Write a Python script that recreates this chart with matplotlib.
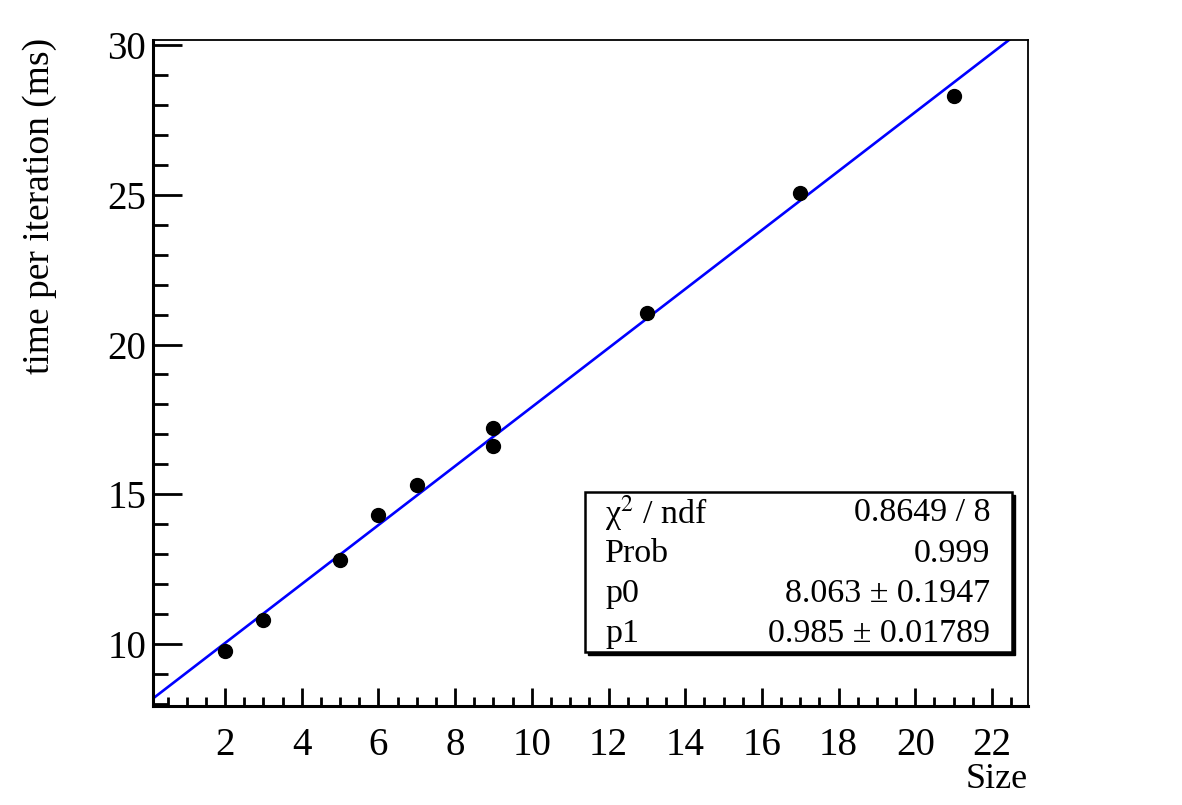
import numpy as np
import matplotlib
matplotlib.use("Agg")
import matplotlib.pyplot as plt
from matplotlib.ticker import MultipleLocator
from matplotlib.patches import Rectangle

plt.rcParams['font.family'] = ['Liberation Serif', 'DejaVu Serif']
plt.rcParams['mathtext.fontset'] = 'stix'

# measured points
size = [2, 3, 5, 6, 7, 9, 9, 13, 17, 21]
time_ms = [9.75, 10.8, 12.8, 14.3, 15.3, 17.2, 16.6, 21.05, 25.05, 28.3]

# fit result (pol1)
p0 = 8.063
p1 = 0.985
stat_labels = ['χ$^{2}$ / ndf', 'Prob', 'p0', 'p1']
stat_values = ['0.8649 / 8', '0.999', '8.063 ± 0.1947', '0.985 ± 0.01789']

xlim = (0.12, 22.94)
ylim = (7.93, 30.17)

fig = plt.figure(figsize=(11.82, 8.05), dpi=100)
ax = fig.add_axes([153/1182, 1-706/805, (1028-153)/1182, (706-40)/805])

# fit line over the whole axis range
xf = np.linspace(xlim[0], xlim[1], 200)
ax.plot(xf, p0 + p1*xf, color='#0000ff', lw=1.9, zorder=2)
ax.plot(size, time_ms, 'o', color='black', ms=10, zorder=3)

ax.set_xlim(*xlim)
ax.set_ylim(*ylim)

ax.xaxis.set_major_locator(MultipleLocator(2))
ax.xaxis.set_minor_locator(MultipleLocator(0.5))
ax.yaxis.set_major_locator(MultipleLocator(5))
ax.yaxis.set_minor_locator(MultipleLocator(1))
ax.tick_params(axis='x', which='major', direction='in', length=13, width=2, labelsize=28, pad=15)
ax.tick_params(axis='x', which='minor', direction='in', length=6.5, width=2)
ax.tick_params(axis='y', which='major', direction='in', length=21, width=2, labelsize=28, pad=5)
ax.tick_params(axis='y', which='minor', direction='in', length=11, width=2)

ax.spines['left'].set_linewidth(2.2)
ax.spines['bottom'].set_linewidth(2.2)
ax.spines['top'].set_linewidth(1.3)
ax.spines['right'].set_linewidth(1.3)

fig.text(40/1182, 1-38/805, 'time per iteration (ms)', rotation=90,
         ha='center', va='top', fontsize=27)
fig.text(1028/1182, 1-788/805, 'Size', ha='right', va='baseline', fontsize=26)

# stat box with shadow
bx0, bx1, by0, by1 = 585, 1012, 492, 652
W, H = 1182, 805
fig.patches.append(Rectangle((bx0/W + 3/W, 1-by1/H - 3/H), (bx1-bx0)/W, (by1-by0)/H,
                             transform=fig.transFigure, facecolor='black',
                             edgecolor='black', zorder=4))
fig.patches.append(Rectangle((bx0/W, 1-by1/H), (bx1-bx0)/W, (by1-by0)/H,
                             transform=fig.transFigure, facecolor='white',
                             edgecolor='black', lw=1.8, zorder=5))
rows_y = [513, 554, 594, 634]
for lab, val, yy in zip(stat_labels, stat_values, rows_y):
    fig.text(605/W, 1-yy/H, lab, ha='left', va='center', fontsize=24.5, zorder=6)
    fig.text(990/W, 1-yy/H, val, ha='right', va='center', fontsize=24.5, zorder=6)

fig.savefig('out.png', dpi=100)
